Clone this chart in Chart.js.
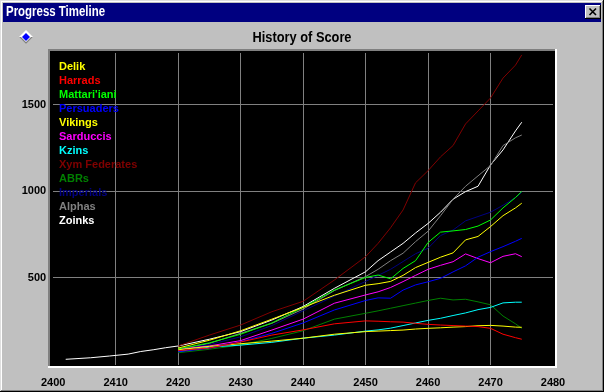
<!DOCTYPE html>
<html>
<head>
<meta charset="utf-8">
<script src="https://cdn.jsdelivr.net/npm/chart.js@4"></script>
<style>
  html, body { margin: 0; padding: 0; background: #c0c0c0; }
  canvas { display: block; }
</style>
</head>
<body>
<canvas id="score" width="604" height="392"></canvas>
<script>
// years; teams start at 2420, Zoinks earlier
const years = [2402, 2406, 2409, 2412, 2414, 2416, 2418,
  2420, 2425, 2430, 2435, 2440, 2445, 2450, 2452, 2454, 2456, 2458,
  2460, 2462, 2464, 2466, 2468, 2470, 2472, 2474, 2475];
const early = [null, null, null, null, null, null, null];

const teams = ['Delik', 'Harrads', "Mattari'iani", 'Persuaders', 'Vikings', 'Sarduccis',
  'Kzins', 'Xym Federates', 'ABRs', 'Imperials', 'Alphas', 'Zoinks'];
const teamColors = ['#ffff00', '#ff0000', '#00ff00', '#0000ff', '#ffff00', '#ff00ff',
  '#00ffff', '#800000', '#008000', '#000080', '#808080', '#ffffff'];

const delik = [...early, 95, 140, 195, 262, 330, 400, 458, 467, 480, 515, 560, 590, 620, 645, 720, 740, 797, 860, 905, 932];
const harrads = [...early, 80, 95, 130, 170, 200, 235, 252, 250, 247, 245, 238, 232, 228, 225, 222, 219, 209, 175, 155, 146];
const mattariiani = [...early, 90, 125, 175, 240, 330, 430, 503, 517, 495, 555, 600, 705, 765, 772, 780, 800, 835, 905, 965, 1000];
const persuaders = [...early, 74, 94, 132, 180, 240, 315, 370, 385, 383, 430, 460, 478, 498, 535, 570, 620, 652, 681, 712, 729];
const vikings = [...early, 85, 105, 120, 135, 152, 175, 190, 193, 196, 199, 205, 209, 212, 216, 219, 224, 226, 222, 216, 215];
const sarduccis = [...early, 88, 107, 138, 199, 262, 354, 402, 420, 445, 479, 515, 550, 573, 594, 639, 612, 588, 625, 640, 623];
const kzins = [...early, 75, 100, 112, 128, 152, 170, 193, 200, 210, 225, 240, 255, 267, 283, 298, 317, 330, 356, 360, 360];
const xymFederates = [...early, 107, 170, 228, 305, 365, 488, 623, 700, 790, 893, 1050, 1120, 1200, 1265, 1390, 1465, 1540, 1655, 1730, 1789];
const abrs = [...early, 68, 88, 113, 151, 195, 262, 296, 310, 325, 340, 355, 370, 383, 373, 377, 362, 345, 280, 235, 209];
const imperials = [...early, 85, 115, 160, 225, 310, 395, 480, 515, 550, 595, 640, 672, 745, 777, 830, 855, 880, 920, 965, 995];
const alphas = [...early, 88, 122, 180, 238, 320, 427, 508, 550, 600, 643, 710, 770, 860, 955, 1030, 1090, 1150, 1265, 1310, 1326];
const zoinks = [30, 39, 49, 60, 75, 85, 97,
  107, 146, 190, 257, 335, 440, 536, 600, 650, 700, 760, 815, 880, 955, 999, 1030, 1153, 1240, 1350, 1400];

const scores = [delik, harrads, mattariiani, persuaders, vikings, sarduccis,
  kzins, xymFederates, abrs, imperials, alphas, zoinks];

const xTicks = [2400, 2410, 2420, 2430, 2440, 2450, 2460, 2470, 2480];
const yTicks = [500, 1000, 1500];

const FONT = '"Liberation Sans", Arial, sans-serif';

function narrowText(ctx, text, x, y, size, width, align) {
  ctx.save();
  ctx.font = 'bold ' + size + 'px ' + FONT;
  const w = ctx.measureText(text).width;
  ctx.translate(x, y);
  ctx.scale(width / w, 1);
  ctx.textAlign = align;
  ctx.textBaseline = 'middle';
  ctx.fillText(text, 0, 0);
  ctx.restore();
}

const windowPlugin = {
  id: 'windowFrame',
  beforeDraw(chart) {
    const { ctx } = chart;
    const W = chart.width, H = chart.height;
    ctx.save();
    ctx.fillStyle = '#c0c0c0';
    ctx.fillRect(0, 0, W, H);
    // outer bevel
    ctx.fillStyle = '#dfdfdf';
    ctx.fillRect(0, 0, W, 1);
    ctx.fillRect(0, 0, 1, H);
    ctx.fillStyle = '#ffffff';
    ctx.fillRect(1, 1, W - 2, 1);
    ctx.fillRect(1, 1, 1, H - 2);
    ctx.fillStyle = '#808080';
    ctx.fillRect(W - 2, 1, 1, H - 2);
    ctx.fillRect(1, H - 2, W - 2, 1);
    ctx.fillStyle = '#000000';
    ctx.fillRect(W - 1, 0, 1, H);
    ctx.fillRect(0, H - 1, W, 1);

    // title bar
    ctx.fillStyle = '#000080';
    ctx.fillRect(3, 3, W - 6, 19);
    ctx.fillStyle = '#ffffff';
    narrowText(ctx, 'Progress Timeline', 6, 12.5, 14, 99, 'left');

    // close button
    const bx = 585, by = 5, bw = 16, bh = 14;
    ctx.fillStyle = '#c0c0c0';
    ctx.fillRect(bx, by, bw, bh);
    ctx.fillStyle = '#ffffff';
    ctx.fillRect(bx, by, bw - 1, 1);
    ctx.fillRect(bx, by, 1, bh - 1);
    ctx.fillStyle = '#000000';
    ctx.fillRect(bx + bw - 1, by, 1, bh);
    ctx.fillRect(bx, by + bh - 1, bw, 1);
    ctx.fillStyle = '#808080';
    ctx.fillRect(bx + bw - 2, by + 1, 1, bh - 2);
    ctx.fillRect(bx + 1, by + bh - 2, bw - 2, 1);
    ctx.strokeStyle = '#000000';
    ctx.lineWidth = 1.6;
    ctx.beginPath();
    ctx.moveTo(bx + 4.5, by + 3.5); ctx.lineTo(bx + 11, by + 10);
    ctx.moveTo(bx + 11, by + 3.5); ctx.lineTo(bx + 4.5, by + 10);
    ctx.stroke();

    // diamond icon
    const dx = 26, dy = 37;
    ctx.fillStyle = '#ffffff';
    ctx.beginPath();
    ctx.moveTo(dx, dy - 7); ctx.lineTo(dx + 7, dy); ctx.lineTo(dx, dy + 7); ctx.lineTo(dx - 7, dy);
    ctx.closePath(); ctx.fill();
    ctx.fillStyle = '#808080';
    ctx.beginPath();
    ctx.moveTo(dx + 7, dy); ctx.lineTo(dx, dy + 7); ctx.lineTo(dx - 7, dy); ctx.lineTo(dx - 5, dy);
    ctx.lineTo(dx, dy + 5); ctx.lineTo(dx + 5, dy);
    ctx.closePath(); ctx.fill();
    ctx.fillStyle = '#0000ff';
    ctx.beginPath();
    ctx.moveTo(dx, dy - 4); ctx.lineTo(dx + 4, dy); ctx.lineTo(dx, dy + 4); ctx.lineTo(dx - 4, dy);
    ctx.closePath(); ctx.fill();

    // chart title
    ctx.fillStyle = '#000000';
    narrowText(ctx, 'History of Score', 302, 37.5, 15, 99, 'center');

    // sunken black plot panel
    ctx.fillStyle = '#808080';
    ctx.fillRect(48, 49, 509, 2);
    ctx.fillRect(48, 49, 2, 319);
    ctx.fillStyle = '#ffffff';
    ctx.fillRect(48, 366, 509, 2);
    ctx.fillRect(555, 49, 2, 319);
    ctx.fillStyle = '#000000';
    ctx.fillRect(50, 51, 505, 315);
    ctx.restore();
  }
};

const legendPlugin = {
  id: 'teamLegend',
  afterDatasetsDraw(chart) {
    const { ctx } = chart;
    ctx.save();
    ctx.font = 'bold 11px ' + FONT;
    ctx.textAlign = 'left';
    ctx.textBaseline = 'middle';
    chart.data.datasets.forEach((ds, i) => {
      ctx.fillStyle = ds.borderColor;
      ctx.fillText(ds.label, 59, 67 + i * 14);
    });
    ctx.restore();
  }
};

const datasets = teams.map((name, i) => ({
  label: name,
  data: years.map((yr, j) => ({ x: yr, y: scores[i][j] })).filter(p => p.y !== null),
  borderColor: teamColors[i],
  backgroundColor: teamColors[i],
  borderWidth: 1,
  pointRadius: 0,
  tension: 0,
  fill: false
}));

new Chart(document.getElementById('score'), {
  type: 'line',
  data: { datasets },
  options: {
    responsive: false,
    animation: false,
    layout: { padding: { top: 53, right: 51, left: 0, bottom: 0 } },
    plugins: {
      legend: { display: false },
      title: { display: false },
      tooltip: { enabled: false }
    },
    scales: {
      x: {
        type: 'linear',
        min: 2400,
        max: 2480,
        afterBuildTicks(scale) { scale.ticks = xTicks.map(v => ({ value: v })); },
        afterFit(scale) { scale.height = 27.5; },
        border: { display: false },
        grid: {
          drawTicks: false,
          lineWidth: 1,
          color: ctx => (ctx.tick && (ctx.tick.value === 2400 || ctx.tick.value === 2480)) ? 'rgba(0,0,0,0)' : '#808080'
        },
        ticks: {
          padding: 12,
          color: '#000000',
          font: { family: FONT, size: 11, weight: 'bold' },
          maxRotation: 0,
          autoSkip: false,
          callback: v => String(v)
        }
      },
      y: {
        min: 0,
        max: 1800,
        afterBuildTicks(scale) { scale.ticks = yTicks.map(v => ({ value: v })); },
        afterFit(scale) { scale.width = 53.2; },
        border: { display: false },
        grid: { drawTicks: false, lineWidth: 1, color: '#808080' },
        ticks: {
          padding: 7,
          color: '#000000',
          font: { family: FONT, size: 11, weight: 'bold' },
          callback: v => String(v)
        }
      }
    }
  },
  plugins: [windowPlugin, legendPlugin]
});
</script>
</body>
</html>
